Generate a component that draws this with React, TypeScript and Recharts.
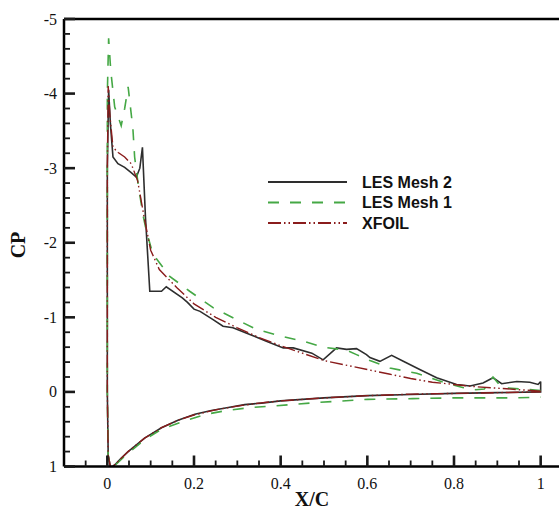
import { LineChart, Line, XAxis, YAxis, ReferenceLine } from 'recharts'

// x/c, Cp pairs, traced from trailing edge (upper) round the leading edge to trailing edge (lower)
const les2: [number, number][] = [
  [1.0, -0.14], [0.994, -0.1], [0.975, -0.13], [0.945, -0.14], [0.91, -0.11], [0.89, -0.19],
  [0.867, -0.12], [0.837, -0.08], [0.806, -0.1], [0.76, -0.19], [0.721, -0.3], [0.683, -0.41],
  [0.656, -0.49], [0.629, -0.41], [0.606, -0.46], [0.598, -0.5], [0.575, -0.58], [0.552, -0.57],
  [0.529, -0.59], [0.498, -0.43], [0.472, -0.52], [0.429, -0.59], [0.406, -0.59], [0.367, -0.68],
  [0.329, -0.77], [0.29, -0.86], [0.267, -0.88], [0.244, -0.97], [0.214, -1.08], [0.2, -1.11],
  [0.185, -1.2], [0.173, -1.26], [0.136, -1.41], [0.125, -1.35], [0.098, -1.35], [0.088, -2.34],
  [0.081, -3.28], [0.075, -3.0], [0.067, -2.88], [0.055, -2.94], [0.04, -3.01], [0.0245, -3.06],
  [0.013, -3.15], [0.007, -3.6], [0.003, -4.05], [0.0, -3.0], [0.0, 0.0], [0.002, 0.85],
  [0.007, 1.0], [0.012, 1.0], [0.017, 0.98], [0.03, 0.9], [0.048, 0.8], [0.086, 0.62],
  [0.125, 0.48], [0.163, 0.38], [0.202, 0.3], [0.24, 0.25], [0.279, 0.21], [0.317, 0.17],
  [0.356, 0.15], [0.4, 0.12], [0.5, 0.08], [0.6, 0.05], [0.7, 0.035], [0.8, 0.02], [0.9, 0.01],
  [1.0, 0.0], [1.0, -0.14],
]

const les1: [number, number][] = [
  [1.0, -0.02], [0.95, -0.04], [0.91, -0.06], [0.89, -0.2], [0.87, -0.04], [0.85, -0.03],
  [0.82, -0.06], [0.775, -0.13], [0.714, -0.25], [0.652, -0.32], [0.606, -0.42], [0.575, -0.5],
  [0.552, -0.56], [0.498, -0.6], [0.452, -0.68], [0.398, -0.75], [0.344, -0.84], [0.298, -0.97],
  [0.244, -1.13], [0.19, -1.35], [0.144, -1.55], [0.105, -1.85], [0.09, -2.16], [0.082, -2.38],
  [0.071, -2.79], [0.063, -3.15], [0.059, -3.53], [0.048, -4.09], [0.04, -3.8], [0.032, -3.57],
  [0.017, -3.82], [0.008, -4.3], [0.003, -4.74], [0.0, -4.0], [0.0, 0.0], [0.002, 0.85],
  [0.007, 1.0], [0.012, 1.0], [0.02, 0.97], [0.048, 0.82], [0.086, 0.64], [0.125, 0.5],
  [0.178, 0.39], [0.228, 0.3], [0.275, 0.25], [0.33, 0.21], [0.38, 0.19], [0.49, 0.14],
  [0.6, 0.1], [0.705, 0.09], [0.8, 0.08], [0.936, 0.08], [1.0, 0.07],
]

const xfoil: [number, number][] = [
  [1.0, -0.01], [0.95, -0.03], [0.9, -0.05], [0.85, -0.07], [0.8, -0.1], [0.75, -0.13],
  [0.7, -0.18], [0.65, -0.24], [0.6, -0.3], [0.55, -0.36], [0.5, -0.42], [0.45, -0.52],
  [0.4, -0.62], [0.35, -0.73], [0.3, -0.86], [0.25, -1.0], [0.2, -1.18], [0.16, -1.4],
  [0.12, -1.64], [0.1, -1.9], [0.085, -2.34], [0.07, -2.83], [0.055, -3.06], [0.04, -3.15],
  [0.025, -3.21], [0.013, -3.28], [0.006, -3.7], [0.002, -4.1], [0.0, -3.0], [0.0, 0.0],
  [0.002, 0.85], [0.007, 1.0], [0.012, 1.0], [0.02, 0.96], [0.048, 0.8], [0.086, 0.62],
  [0.125, 0.48], [0.163, 0.38], [0.2, 0.31], [0.25, 0.24], [0.3, 0.19], [0.35, 0.15],
  [0.4, 0.12], [0.5, 0.08], [0.6, 0.05], [0.7, 0.03], [0.8, 0.02], [0.9, 0.01], [1.0, 0.0],
]

const X_MAJOR = [0, 0.2, 0.4, 0.6, 0.8, 1]
const X_LABELS = ['0', '0.2', '0.4', '0.6', '0.8', '1']
const Y_MAJOR = [-5, -4, -3, -2, -1, 0, 1]
const Y_LABELS = ['-5', '-4', '-3', '-2', '-1', '0', '1']

const X_TICKS = Array.from({ length: 23 }, (_, i) => Math.round((-0.05 + i * 0.05) * 100) / 100)
const Y_TICKS = Array.from({ length: 31 }, (_, i) => Math.round((-5 + i * 0.2) * 10) / 10)

const SOLID = '#2e2e2e'
const GREEN = '#45a845'
const RED = '#8a1c1c'
const DASH_GREEN = '11 11'
const DASH_RED = '13 3 1.5 3 1.5 3'
const SERIF = '"Liberation Serif", "Times New Roman", serif'
const SANS = '"Liberation Sans", Arial, sans-serif'
const TICK = '#1a1a1a'

const toRows = (pts: [number, number][]) => pts.map(([x, cp]) => ({ x, cp }))

const series = [
  { name: 'LES Mesh 2', data: toRows(les2), color: SOLID, dash: undefined, width: 1.6 },
  { name: 'LES Mesh 1', data: toRows(les1), color: GREEN, dash: DASH_GREEN, width: 1.6 },
  { name: 'XFOIL', data: toRows(xfoil), color: RED, dash: DASH_RED, width: 1.4 },
]

const findMajor = (list: number[], v: number) => list.findIndex((m) => Math.abs(m - v) < 1e-6)

// inward ticks as stroked paths: majors long, minors short
function XTick(props: any) {
  const x = Number(props.x)
  const y = Number(props.y)
  const i = findMajor(X_MAJOR, props.payload.value)
  const len = i >= 0 ? 11 : 6
  return (
    <g>
      <path d={`M${x},${y} V${y - len}`} stroke={TICK} strokeWidth={i >= 0 ? 2.6 : 1.8} fill="none" />
      {i >= 0 && (
        <text x={x} y={y + 22} textAnchor="middle" fontFamily={SERIF} fontSize={16} fill="#111">
          {X_LABELS[i]}
        </text>
      )}
    </g>
  )
}

function YTick(props: any) {
  const x = Number(props.x)
  const y = Number(props.y)
  const i = findMajor(Y_MAJOR, props.payload.value)
  const len = i >= 0 ? 11 : 6
  return (
    <g>
      <path d={`M${x},${y} H${x + len}`} stroke={TICK} strokeWidth={i >= 0 ? 2.6 : 1.8} fill="none" />
      {i >= 0 && (
        <text x={x - 7} y={y} textAnchor="end" dominantBaseline="central" fontFamily={SERIF} fontSize={16} fill="#111">
          {Y_LABELS[i]}
        </text>
      )}
    </g>
  )
}

export default function App() {
  return (
    <div style={{ position: 'fixed', left: 0, top: 0, width: 559, height: 512, overflow: 'hidden', background: '#fff' }}>
      <LineChart width={600} height={512} margin={{ top: 19, right: 16, left: 0, bottom: 0 }}>
        <XAxis
          dataKey="x" type="number" domain={[-0.1, 1.1]} allowDataOverflow ticks={X_TICKS} interval={0}
          tickSize={0} tickMargin={0} tickLine={false} tick={<XTick />} height={45.5}
          axisLine={{ stroke: '#000', strokeWidth: 2.5 }}
        />
        <YAxis
          dataKey="cp" type="number" domain={[-5, 1]} reversed allowDataOverflow ticks={Y_TICKS} interval={0}
          tickSize={0} tickMargin={0} tickLine={false} tick={<YTick />} width={64}
          axisLine={{ stroke: '#000', strokeWidth: 2.5 }}
        />
        <ReferenceLine y={-5} stroke="#000" strokeWidth={2.5} ifOverflow="visible" />
        {series.map((s) => (
          <Line
            key={s.name} data={s.data} dataKey="cp" name={s.name} type="linear" stroke={s.color}
            strokeWidth={s.width} strokeDasharray={s.dash} dot={false} isAnimationActive={false}
          />
        ))}
      </LineChart>
      <svg width={559} height={512} style={{ position: 'absolute', left: 0, top: 0, pointerEvents: 'none' }}>
        <text x={312} y={506} textAnchor="middle" fontFamily={SERIF} fontWeight="bold" fontSize={20} fill="#111">
          X/C
        </text>
        <text x={17.5} y={245} transform="rotate(-90 17.5 245)" textAnchor="middle" dominantBaseline="central"
          fontFamily={SERIF} fontWeight="bold" fontSize={20} fill="#111">
          CP
        </text>
        {series.map((s, i) => {
          const y = 182 + i * 20.5
          return (
            <g key={s.name}>
              <line x1={268} x2={347} y1={y} y2={y} stroke={s.color} strokeWidth={2} strokeDasharray={s.dash} />
              <text x={362} y={y} dominantBaseline="central" fontFamily={SANS} fontWeight="bold" fontSize={16} fill="#111">
                {s.name}
              </text>
            </g>
          )
        })}
      </svg>
    </div>
  )
}
